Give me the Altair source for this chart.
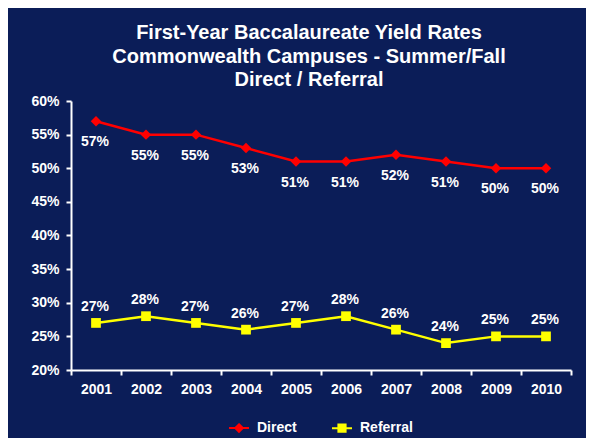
import altair as alt
import pandas as pd

years = ["2001", "2002", "2003", "2004", "2005", "2006", "2007", "2008", "2009", "2010"]
direct = [0.57, 0.55, 0.55, 0.53, 0.51, 0.51, 0.52, 0.51, 0.50, 0.50]
referral = [0.27, 0.28, 0.27, 0.26, 0.27, 0.28, 0.26, 0.24, 0.25, 0.25]
series = ["Direct", "Referral"]
series_colors = ["#FF0000", "#FFFF00"]
y_ticks = [0.20, 0.25, 0.30, 0.35, 0.40, 0.45, 0.50, 0.55, 0.60]
title_lines = [
    "First-Year Baccalaureate Yield Rates",
    "Commonwealth Campuses - Summer/Fall",
    "Direct / Referral",
]

df = pd.DataFrame({
    "Year": years * 2,
    "Series": [series[0]] * len(years) + [series[1]] * len(years),
    "Rate": direct + referral,
})

FONT = "Liberation Sans"
BG = "#0B1D58"
FS = 14

x_enc = alt.X(
    "Year:N",
    bandPosition=0.5,
    scale=alt.Scale(type="band", paddingInner=0, paddingOuter=0),
    axis=alt.Axis(
        title=None, labelAngle=0, tickBand="extent", tickSize=5,
        labelPadding=7, domainColor="white", tickColor="white",
        domainWidth=2, tickWidth=2, labelColor="white", labelFont=FONT,
        labelFontSize=FS, labelFontWeight="bold", grid=False,
    ),
)
y_enc = alt.Y(
    "Rate:Q",
    scale=alt.Scale(domain=[0.2, 0.6], nice=False, zero=False),
    axis=alt.Axis(
        title=None, format=".0%", values=y_ticks, tickSize=5, labelPadding=7,
        domainColor="white", tickColor="white", domainWidth=2, tickWidth=2,
        labelColor="white", labelFont=FONT, labelFontSize=FS,
        labelFontWeight="bold", grid=False,
    ),
)

base = alt.Chart(df)
d_base = base.transform_filter(alt.datum.Series == series[0])
r_base = base.transform_filter(alt.datum.Series == series[1])

line_direct = d_base.mark_line(strokeWidth=2.5, color=series_colors[0]).encode(x=x_enc, y=y_enc)
line_ref = r_base.mark_line(strokeWidth=2.5, color=series_colors[1]).encode(x=x_enc, y=y_enc)

pts_direct = d_base.mark_point(
    filled=True, shape="diamond", size=110, opacity=1, color=series_colors[0]
).encode(x=x_enc, y=y_enc)

pts_ref = r_base.mark_point(
    filled=True, shape="square", size=95, opacity=1, color=series_colors[1]
).encode(x=x_enc, y=y_enc)

lab_direct = d_base.mark_text(
    dy=21, color="white", font=FONT, fontSize=FS, fontWeight="bold", dx=-1
).encode(x=x_enc, y=y_enc, text=alt.Text("Rate:Q", format=".0%"))

lab_ref = r_base.mark_text(
    dy=-16, color="white", font=FONT, fontSize=FS, fontWeight="bold", dx=-1
).encode(x=x_enc, y=y_enc, text=alt.Text("Rate:Q", format=".0%"))

legend_paths = [
    "M-1,0H1M0,-0.38L0.38,0L0,0.38L-0.38,0Z",
    "M-1,0H1M-0.36,-0.36H0.36V0.36H-0.36Z",
]
leg = alt.Legend(
    title=None, orient="none", legendX=157, legendY=316, direction="horizontal",
    symbolSize=400, symbolStrokeWidth=2, symbolOpacity=1, labelColor="white",
    labelFont=FONT, labelFontSize=FS, labelFontWeight="bold", labelOffset=7,
    columnPadding=31, padding=0,
)
# legend-only layer: draws nothing (empty after filter); scales have explicit domains
legend_layer = base.transform_filter(alt.datum.Rate < 0).mark_point(filled=True).encode(
    x=x_enc, y=y_enc,
    fill=alt.Fill("Series:N", scale=alt.Scale(domain=series, range=series_colors), legend=leg),
    stroke=alt.Stroke("Series:N", scale=alt.Scale(domain=series, range=series_colors), legend=leg),
    shape=alt.Shape("Series:N", scale=alt.Scale(domain=series, range=legend_paths), legend=leg),
)

chart = alt.layer(
    line_direct, line_ref, pts_direct, pts_ref, lab_direct, lab_ref, legend_layer
).properties(
    width=500, height=269,
    title=alt.TitleParams(
        text=title_lines, font=FONT, fontSize=20, fontWeight="bold",
        color="white", anchor="middle", lineHeight=23.5, offset=4, dx=-12,
        baseline="top",
    ),
    autosize=alt.AutoSizeParams(type="none"),
    padding={"left": 63, "top": 93, "right": 15, "bottom": 68},
    background=BG,
).configure_view(stroke=None)

chart.save("out.html", embed_options={"renderer": "svg", "actions": False})
